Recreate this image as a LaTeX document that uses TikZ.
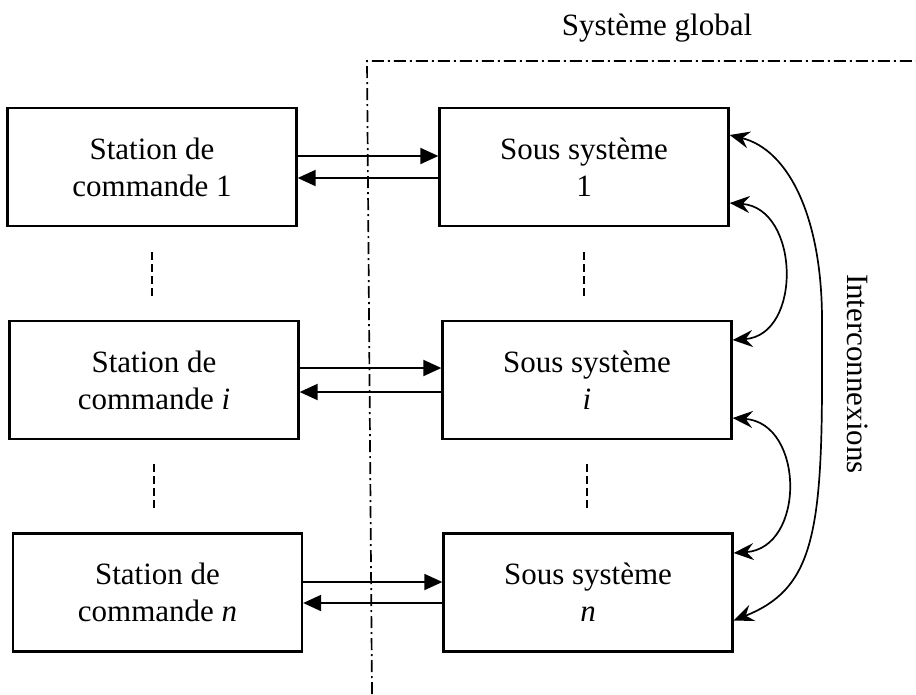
\documentclass[tikz,border=0pt]{standalone}
\usepackage{fontspec}
\setmainfont{Liberation Serif}
\usetikzlibrary{arrows.meta}
\begin{document}
\begin{tikzpicture}[x=1pt,y=-1pt,
  txt/.style={font=\fontsize{31}{37}\selectfont},
  box/.style={draw, line width=2.3pt, minimum width=289pt, minimum height=118pt,
    align=center, inner sep=0pt, txt},
  flow/.style={line width=1.9pt, -{Triangle[length=18pt,width=16pt]}},
  link/.style={line width=1.7pt,
    {Stealth[length=20pt,width=17pt,inset=7pt]}-{Stealth[length=20pt,width=17pt,inset=7pt]}},
  gap/.style={line width=1.8pt, dash pattern=on 8pt off 4pt},
  border/.style={line width=1.7pt, dash pattern=on 12pt off 4pt on 2pt off 4pt}]
\useasboundingbox (0,0) rectangle (916,694);

% boxes
\node[box] (L1) at (152,167) {Station de\\commande 1};
\node[box] (L2) at (154,380) {Station de\\commande \textit{i}};
\node[box] (L3) at (157.5,592.5) {Station de\\commande \textit{n}};
\node[box] (R1) at (584,167) {Sous système\\1};
\node[box] (R2) at (587,380) {Sous système\\\textit{i}};
\node[box] (R3) at (588,592.5) {Sous système\\\textit{n}};

% labels
\node[txt] (title) at (657,28) {Système global};
\node[txt, rotate=-90] (inter) at (858,374) {Interconnexions};

% global system boundary
\coordinate (bb) at (372,694);
\coordinate (bc) at (367,61);
\coordinate (br) at (916,61);
\draw[border] (bb) -- (bc) -- (br);

% station <-> subsystem links
\draw[flow] ([yshift=11pt]L1.east) -- ([yshift=11pt]R1.west);
\draw[flow] ([yshift=-11pt]R1.west) -- ([yshift=-11pt]L1.east);
\draw[flow] ([yshift=12pt]L2.east) -- ([yshift=12pt]R2.west);
\draw[flow] ([yshift=-12pt]R2.west) -- ([yshift=-12pt]L2.east);
\draw[flow] ([yshift=10.5pt]L3.east) -- ([yshift=10.5pt]R3.west);
\draw[flow] ([yshift=-10.5pt]R3.west) -- ([yshift=-10.5pt]L3.east);

% ellipsis dashes
\draw[gap] ([yshift=-25pt]L1.south) -- ++(0,46);
\draw[gap] ([yshift=-24pt]L2.south) -- ++(0,47);
\draw[gap] ([yshift=-25pt]R1.south) -- ++(0,46);
\draw[gap] ([yshift=-24pt]R2.south) -- ++(0,47);

% interconnections
\draw[link] ([yshift=-36pt]R1.east) .. controls +(70,5) and +(70,-5) .. ([yshift=40pt]R2.east);
\draw[link] ([yshift=-38pt]R2.east) .. controls +(72,5) and +(72,-5) .. ([yshift=39.5pt]R3.east);
\coordinate (k1) at (822,320);
\coordinate (k2) at (822,380);
\draw[link] ([yshift=32pt]R1.east) .. controls (790,150) and (822,220) .. (k1)
  -- (k2) .. controls (822,540) and (810,590) .. ([yshift=-28pt]R3.east);
\end{tikzpicture}
\end{document}
